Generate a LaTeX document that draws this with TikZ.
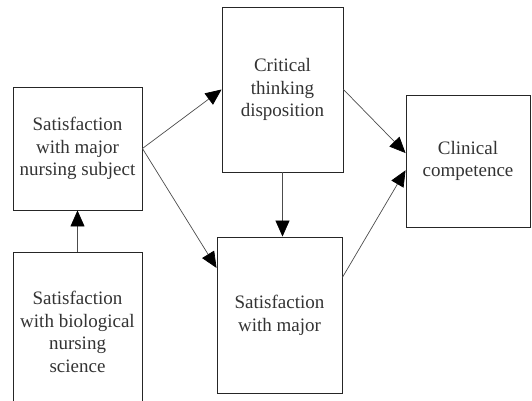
\documentclass[tikz,border=0pt]{standalone}
\usepackage{fontspec}
\setmainfont{Liberation Serif}
\usetikzlibrary{arrows.meta,positioning,calc}

\begin{document}
\begin{tikzpicture}[x=1pt,y=-1pt,
  box/.style={draw=black!85,line width=0.9pt,inner sep=0pt,align=center,
    font=\fontsize{19}{22.7}\selectfont\color{black!80}},
  path/.style={draw=black!70,line width=0.7pt,-{Triangle[length=16pt,width=14pt,black]}}]
  \clip (0,0) rectangle (532,400);
  \node[box,minimum width=129pt,minimum height=123pt] (subj) at (77.5,148.5) {Satisfaction\\with major\\nursing subject};
  \node[box,minimum width=129pt,minimum height=160pt] (bio) at (77.5,332) {Satisfaction\\with biological\\nursing\\science};
  \node[box,minimum width=121pt,minimum height=165pt] (crit) at (282.5,89.5) {Critical\\thinking\\disposition};
  \node[box,minimum width=125pt,minimum height=156pt] (major) at (279.5,315) {Satisfaction\\with major};
  \node[box,minimum width=124pt,minimum height=132pt] (clin) at (468,161) {Clinical\\competence};
  \path[path] (bio.north) -- (subj.south);
  \path[path] (subj.east) -- (crit.west);
  \path[path] (subj.east) -- ($(major.north west)!0.2!(major.south west)$);
  \path[path] (crit.south) -- (crit.south |- major.north);
  \path[path] (crit.east) -- ($(clin.north west)!0.44!(clin.south west)$);
  \path[path] ($(major.north east)!0.26!(major.south east)$) -- ($(clin.north west)!0.57!(clin.south west)$);
\end{tikzpicture}
\end{document}
